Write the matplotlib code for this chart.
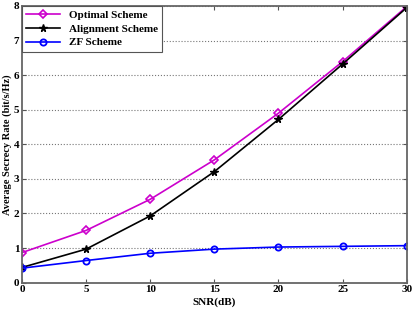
import numpy as np
import matplotlib.pyplot as plt

plt.rcParams['font.family'] = ['Liberation Serif', 'DejaVu Serif']
plt.rcParams['font.weight'] = 'bold'

snr = [0, 5, 10, 15, 20, 25, 30]
optimal = [0.87, 1.51, 2.41, 3.55, 4.90, 6.39, 7.98]
alignment = [0.44, 0.97, 1.93, 3.21, 4.72, 6.32, 7.95]
zf = [0.42, 0.64, 0.85, 0.97, 1.03, 1.05, 1.07]

fig = plt.figure(figsize=(4.15, 3.12), dpi=100)
ax = fig.add_axes([0.053, 0.094, 0.927, 0.887])

ax.plot(snr, optimal, color='#cc00cc', marker='D', markersize=4, mfc='none',
        mew=1.2, lw=1.2, label='Optimal Scheme')
ax.plot(snr, alignment, color='black', marker='*', markersize=5.5,
        lw=1.2, label='Alignment Scheme')
ax.plot(snr, zf, color='#0000ff', marker='o', markersize=4.5, mfc='none',
        mew=1.3, lw=1.2, label='ZF Scheme')

ax.set_xlim(0, 30)
ax.set_ylim(0, 8)
ax.set_xticks([0, 5, 10, 15, 20, 25, 30])
ax.set_yticks(range(9))
ax.grid(True, axis='y', linestyle=':', color='#777777', lw=0.8)
ax.tick_params(direction='in', top=True, right=True, labelsize=8, length=3, pad=2,
               color='#555555')
for sp in ax.spines.values():
    sp.set_color('#666666')
    sp.set_linewidth(1.3)

ax.set_xlabel('SNR(dB)', fontsize=8, fontweight='bold', labelpad=2)
ax.set_ylabel('Average Secrecy Rate (bit/s/Hz)', fontsize=7.5, fontweight='bold', labelpad=1)

leg = ax.legend(loc='upper left', fontsize=8, fancybox=False, framealpha=1,
                edgecolor='#555555', borderaxespad=0, handlelength=3,
                borderpad=0.4, labelspacing=0.35)
leg.get_frame().set_linewidth(0.8)

fig.savefig('out.png', dpi=100)
